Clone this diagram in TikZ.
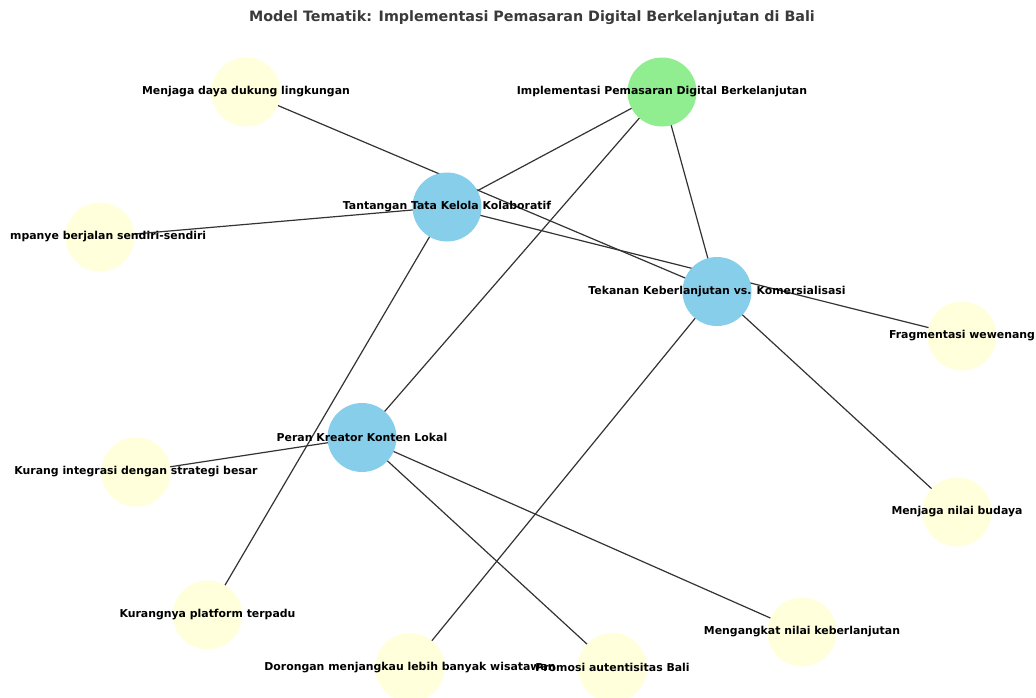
\documentclass[tikz,border=0pt]{standalone}
\usepackage{fontspec}
\setmainfont{DejaVu Sans}
\definecolor{hubgreen}{HTML}{90EE90}
\definecolor{hubblue}{HTML}{87CEEB}
\definecolor{leafyellow}{HTML}{FFFFDC}
\definecolor{edgecol}{HTML}{333333}
\definecolor{titlecol}{HTML}{3A3A3A}
\pgfdeclarelayer{bg}
\pgfdeclarelayer{edges}
\pgfdeclarelayer{labels}
\pgfsetlayers{bg,edges,main,labels}
\begin{document}
\begin{tikzpicture}[x=1pt,y=-1pt,
  disc/.style={circle,minimum size=69pt,inner sep=0pt,draw=none},
  hubg/.style={disc,fill=hubgreen},
  hubb/.style={disc,fill=hubblue},
  leaf/.style={disc,fill=leafyellow},
  lbl/.style={inner sep=0pt,font=\fontsize{10.9}{12}\selectfont\bfseries,text=black},
  conn/.style={draw=edgecol,line width=1.2pt},
  ttl/.style={font=\fontsize{14.3}{16}\selectfont\bfseries,text=titlecol}]
\begin{pgfonlayer}{bg}
\fill[white] (0,0) rectangle (1036,697);
\end{pgfonlayer}
\useasboundingbox (0,0) rectangle (1036,697);

\node[ttl] (title) at (532,18) {Model Tematik: Implementasi Pemasaran Digital Berkelanjutan di Bali};

% hubs
\node[hubg] (impl) at (662,92) {};
\node[hubb] (tant) at (447,207) {};
\node[hubb] (tek) at (717,291.5) {};
\node[hubb] (peran) at (362,437.5) {};
% leaves
\node[leaf] (daya) at (246,92) {};
\node[leaf] (kamp) at (100,237) {};
\node[leaf] (frag) at (962,336) {};
\node[leaf] (integ) at (136,472) {};
\node[leaf] (budaya) at (957,512) {};
\node[leaf] (platform) at (207.5,615) {};
\node[leaf] (angkat) at (802,632) {};
\node[leaf] (dorong) at (410,667.5) {};
\node[leaf] (promosi) at (612.5,667.5) {};

\begin{pgfonlayer}{edges}
\draw[conn] (impl.center) -- (tant.center);
\draw[conn] (impl.center) -- (tek.center);
\draw[conn] (impl.center) -- (peran.center);
\draw[conn] (tant.center) -- (kamp.center);
\draw[conn] (tant.center) -- (frag.center);
\draw[conn] (tant.center) -- (platform.center);
\draw[conn] (tek.center) -- (daya.center);
\draw[conn] (tek.center) -- (budaya.center);
\draw[conn] (tek.center) -- (dorong.center);
\draw[conn] (peran.center) -- (integ.center);
\draw[conn] (peran.center) -- (promosi.center);
\draw[conn] (peran.center) -- (angkat.center);
\end{pgfonlayer}

\begin{pgfonlayer}{labels}
\node[lbl] (implL) at (impl) {Implementasi Pemasaran Digital Berkelanjutan};
\node[lbl] (tantL) at (tant) {Tantangan Tata Kelola Kolaboratif};
\node[lbl] (tekL) at (tek) {Tekanan Keberlanjutan vs. Komersialisasi};
\node[lbl] (peranL) at (peran) {Peran Kreator Konten Lokal};
\node[lbl] (dayaL) at (daya) {Menjaga daya dukung lingkungan};
\node[lbl,anchor=west] (kampL) at (10,237) {mpanye berjalan sendiri-sendiri};
\node[lbl] (fragL) at (frag) {Fragmentasi wewenang};
\node[lbl] (integL) at (integ) {Kurang integrasi dengan strategi besar};
\node[lbl] (budayaL) at (budaya) {Menjaga nilai budaya};
\node[lbl] (platformL) at (platform) {Kurangnya platform terpadu};
\node[lbl] (angkatL) at (angkat) {Mengangkat nilai keberlanjutan};
\node[lbl] (dorongL) at (dorong) {Dorongan menjangkau lebih banyak wisatawan};
\node[lbl] (promosiL) at (promosi) {Promosi autentisitas Bali};
\end{pgfonlayer}
\end{tikzpicture}
\end{document}
